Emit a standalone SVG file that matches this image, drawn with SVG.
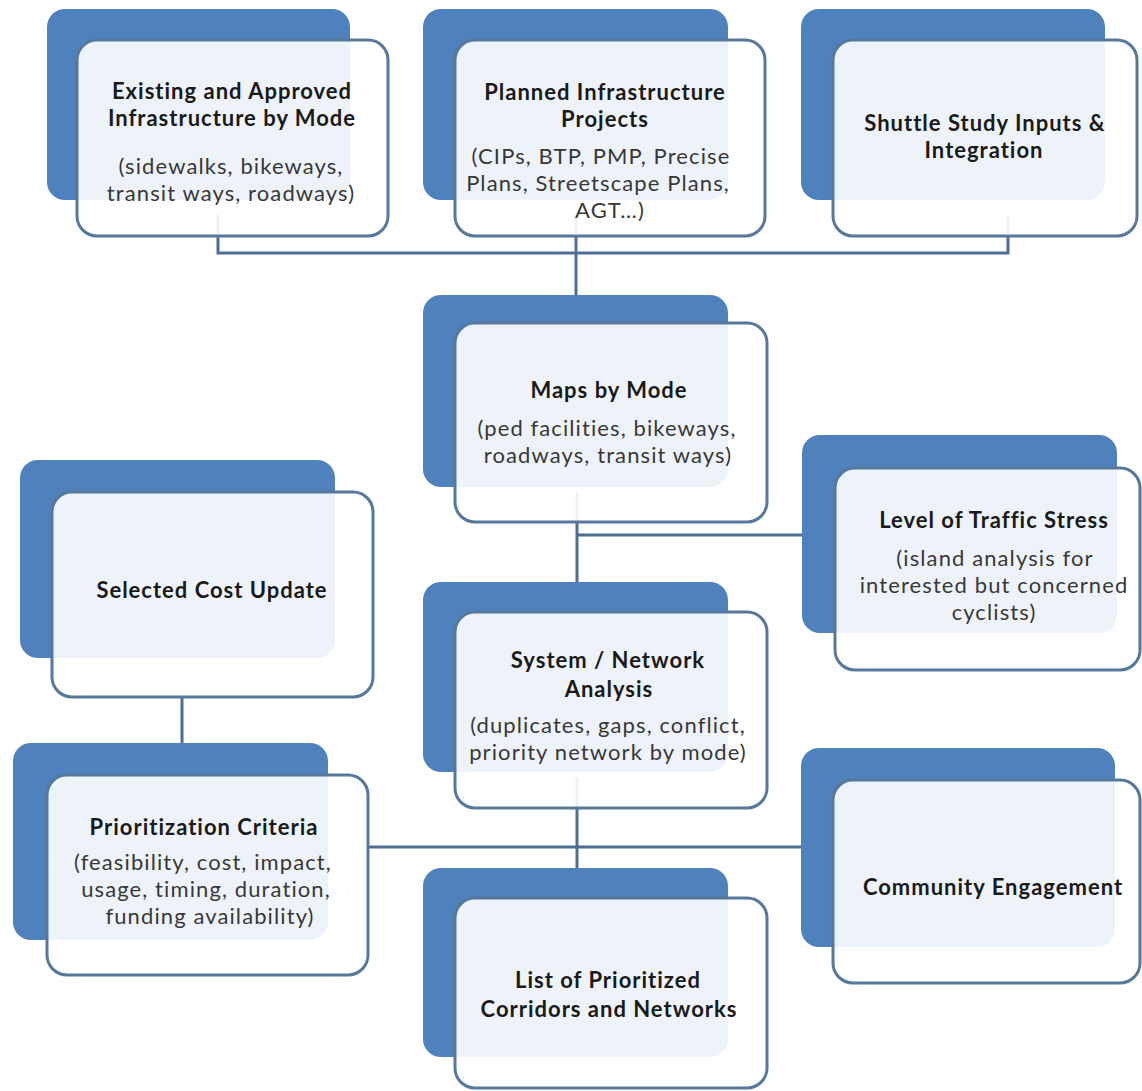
<svg xmlns="http://www.w3.org/2000/svg" width="1142" height="1091" viewBox="0 0 1142 1091">
<style>
.back{fill:#4F81BD}
.front{fill:#FFFFFF;fill-opacity:0.9;stroke:#56789C;stroke-width:3}
.conn{fill:none;stroke:#4F6E91;stroke-width:3}
.t{font-family:Lato,"Open Sans",sans-serif;font-weight:bold;font-size:22px;letter-spacing:1px;fill:#1A1A1A;text-anchor:middle}
.s{font-family:Lato,"Open Sans",sans-serif;font-size:22px;letter-spacing:1.1px;fill:#383838;text-anchor:middle}
</style>
<rect width="1142" height="1091" fill="#FFFFFF"/>
<g id="connectors">
<path class="conn" d="M218,215 V253 H1008 V215"/>
<path class="conn" d="M576,215 V295"/>
<path class="conn" d="M577,492 V582"/>
<path class="conn" d="M577,535 H802"/>
<path class="conn" d="M182,697 V743"/>
<path class="conn" d="M368,847 H801"/>
<path class="conn" d="M577,777 V868"/>
</g>
<g id="node-existing">
<rect class="back" x="47" y="9" width="303" height="191" rx="18"/>
<rect class="front" x="77" y="40" width="311" height="196" rx="20"/>
<text class="t" x="232" y="99">Existing and Approved</text>
<text class="t" x="232" y="126">Infrastructure by Mode</text>
<text class="s" x="231" y="174">(sidewalks, bikeways,</text>
<text class="s" x="231" y="201">transit ways, roadways)</text>
</g>
<g id="node-planned">
<rect class="back" x="423" y="9" width="305" height="191" rx="18"/>
<rect class="front" x="455" y="40" width="310" height="196" rx="20"/>
<text class="t" x="605" y="100">Planned Infrastructure</text>
<text class="t" x="605" y="127">Projects</text>
<text class="s" x="601" y="164">(CIPs, BTP, PMP, Precise</text>
<text class="s" x="598" y="191">Plans, Streetscape Plans,</text>
<text class="s" x="610" y="218">AGT…)</text>
</g>
<g id="node-shuttle">
<rect class="back" x="801" y="9" width="304" height="191" rx="18"/>
<rect class="front" x="833" y="40" width="304" height="196" rx="20"/>
<text class="t" x="985" y="131">Shuttle Study Inputs &amp;</text>
<text class="t" x="984" y="158">Integration</text>
</g>
<g id="node-maps">
<rect class="back" x="423" y="295" width="305" height="192" rx="18"/>
<rect class="front" x="455" y="323" width="312" height="199" rx="20"/>
<text class="t" x="609" y="398">Maps by Mode</text>
<text class="s" x="607" y="436">(ped facilities, bikeways,</text>
<text class="s" x="608" y="463">roadways, transit ways)</text>
</g>
<g id="node-cost">
<rect class="back" x="20" y="460" width="315" height="198" rx="18"/>
<rect class="front" x="52" y="492" width="321" height="205" rx="20"/>
<text class="t" x="212" y="598">Selected Cost Update</text>
</g>
<g id="node-lts">
<rect class="back" x="802" y="435" width="315" height="198" rx="18"/>
<rect class="front" x="835" y="468" width="305" height="202" rx="20"/>
<text class="t" x="994" y="528">Level of Traffic Stress</text>
<text class="s" x="995" y="566">(island analysis for</text>
<text class="s" x="994" y="593">interested but concerned</text>
<text class="s" x="994" y="620">cyclists)</text>
</g>
<g id="node-system">
<rect class="back" x="423" y="582" width="305" height="190" rx="18"/>
<rect class="front" x="455" y="612" width="312" height="196" rx="20"/>
<text class="t" x="608" y="668">System / Network</text>
<text class="t" x="609" y="697">Analysis</text>
<text class="s" x="608" y="733">(duplicates, gaps, conflict,</text>
<text class="s" x="608" y="760">priority network by mode)</text>
</g>
<g id="node-criteria">
<rect class="back" x="13" y="743" width="315" height="197" rx="18"/>
<rect class="front" x="47" y="775" width="321" height="200" rx="20"/>
<text class="t" x="204" y="835">Prioritization Criteria</text>
<text class="s" x="203" y="870">(feasibility, cost, impact,</text>
<text class="s" x="206" y="897">usage, timing, duration,</text>
<text class="s" x="210" y="924">funding availability)</text>
</g>
<g id="node-community">
<rect class="back" x="801" y="748" width="314" height="199" rx="18"/>
<rect class="front" x="833" y="780" width="307" height="203" rx="20"/>
<text class="t" x="993" y="895">Community Engagement</text>
</g>
<g id="node-list">
<rect class="back" x="423" y="868" width="305" height="189" rx="18"/>
<rect class="front" x="455" y="898" width="312" height="190" rx="20"/>
<text class="t" x="608" y="988">List of Prioritized</text>
<text class="t" x="609" y="1017">Corridors and Networks</text>
</g>
</svg>
